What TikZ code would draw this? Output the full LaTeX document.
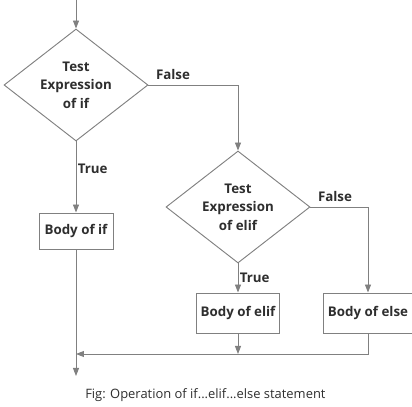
\documentclass[tikz,border=0pt]{standalone}
\usepackage{fontspec}
\setmainfont{Open Sans}
\usetikzlibrary{shapes.geometric,arrows.meta}
\definecolor{linegray}{HTML}{808080}
\definecolor{textgray}{HTML}{2E2E2E}
\tikzset{
  decision/.style={diamond, draw=linegray, line width=0.7pt, aspect=1.29,
    minimum width=108pt, minimum height=84pt, inner sep=0pt, align=center,
    font={\bfseries\fontsize{10}{14}\selectfont}, text=textgray},
  block/.style={rectangle, draw=linegray, line width=0.7pt, align=center,
    font=\bfseries, text=textgray},
  flow/.style={draw=linegray, line width=0.7pt, -{Triangle[width=4.5pt,length=6pt]}},
  lbl/.style={font=\bfseries, text=textgray}
}
\begin{document}
\begin{tikzpicture}[x=0.75pt,y=-0.75pt]
\useasboundingbox (0,0) rectangle (412,407);
\coordinate (start) at (76,0);
\node[decision] (ifq) at (76,85) {Test\\Expression\\of if};
\node[decision] (elifq) at (238,207) {Test\\Expression\\of elif};
\node[block, minimum width=55.5pt, minimum height=27pt] (ifbody) at (76,231) {Body of if};
\node[block, minimum width=59pt, minimum height=30pt] (elifbody) at (238,313) {Body of elif};
\node[block, minimum width=64.5pt, minimum height=30pt] (elsebody) at (368,313) {Body of else};
\coordinate (join) at (76,354);
\coordinate (stop) at (76,376);
\draw[flow] (start) -- (ifq.north);
\draw[flow] (ifq.east) -| (elifq.north)
  node[lbl, pos=0, anchor=south west, xshift=2pt] {False};
\draw[flow] (ifq.south) -- node[lbl, pos=0.38, right, inner sep=1pt] {True} (ifbody.north);
\draw[flow] (elifq.east) -| (elsebody.north)
  node[lbl, pos=0, anchor=south west, xshift=2pt] {False};
\draw[flow] (elifq.south) -- node[lbl, midway, right, inner sep=1pt] {True} (elifbody.north);
\draw[flow] (elifbody.south) -- (elifbody.south |- join);
\draw[flow] (elsebody.south) |- (join);
\draw[flow] (ifbody.south) -- (stop);
\node[font=\fontsize{9.7}{12}\selectfont, text=textgray, anchor=west, inner sep=0pt] (caption) at (85,395) {Fig: Operation of if...elif...else statement};
\end{tikzpicture}
\end{document}
